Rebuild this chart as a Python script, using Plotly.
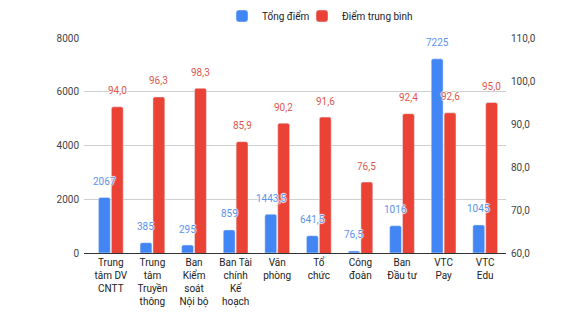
import plotly.graph_objects as go

# Departments, total score and average score
categories = [
    "Trung tâm DV CNTT", "Trung tâm Truyền thông", "Ban Kiểm soát Nội bộ",
    "Ban Tài chính Kế hoạch", "Văn phòng", "Tổ chức", "Công đoàn",
    "Ban Đầu tư", "VTC Pay", "VTC Edu",
]
tick_labels = [
    "Trung<br>tâm DV<br>CNTT", "Trung<br>tâm<br>Truyền<br>thông",
    "Ban<br>Kiểm<br>soát<br>Nội bộ", "Ban Tài<br>chính<br>Kế<br>hoạch",
    "Văn<br>phòng", "Tổ<br>chức", "Công<br>đoàn", "Ban<br>Đầu tư",
    "VTC<br>Pay", "VTC<br>Edu",
]
total_score = [2067, 385, 295, 859, 1443.5, 641.5, 76.5, 1016, 7225, 1045]
avg_score = [94.0, 96.3, 98.3, 85.9, 90.2, 91.6, 76.5, 92.4, 92.6, 95.0]

BLUE = "#4285F4"
RED = "#EA4335"
BLUE_LABEL = "#5b93ee"
RED_LABEL = "#e2574c"
FONT = "Roboto, Arial, sans-serif"

W, H = 574, 322
M_L, M_R, M_T, M_B = 84, 68, 38, 69
X_RANGE = [-0.645, 9.5]
BARGAP, GROUPGAP = 0.38, 0.08

plot_w = W - M_L - M_R
plot_h = H - M_T - M_B
px_per_cat = plot_w / (X_RANGE[1] - X_RANGE[0])
bar_offset = px_per_cat * (1 - BARGAP) / 4


def fmt(v, decimals=None):
    if decimals is None:
        s = f"{v:g}"
    else:
        s = f"{v:.{decimals}f}"
    return s.replace(".", ",")


fig = go.Figure()
fig.add_trace(go.Bar(
    x=categories, y=total_score, name="Tổng điểm", legend="legend",
    marker=dict(color=BLUE, cornerradius=2), offsetgroup="1", yaxis="y",
))
fig.add_trace(go.Bar(
    x=categories, y=avg_score, name="Điểm trung bình", legend="legend2",
    marker=dict(color=RED, cornerradius=2), offsetgroup="2", yaxis="y2",
))

halo = "1px 0 1px #fff, -1px 0 1px #fff, 0 1px 1px #fff, 0 -1px 1px #fff"
annotations = []
for cat, v in zip(categories, total_score):
    annotations.append(dict(
        x=cat, y=v, xref="x", yref="y", text=fmt(v), showarrow=False,
        xshift=-bar_offset, yshift=16, yanchor="middle",
        font=dict(family=FONT, size=10, color=BLUE_LABEL, shadow=halo),
    ))
for cat, v in zip(categories, avg_score):
    annotations.append(dict(
        x=cat, y=v, xref="x", yref="y2", text=fmt(v, 1), showarrow=False,
        xshift=bar_offset, yshift=16, yanchor="middle",
        font=dict(family=FONT, size=10, color=RED_LABEL, shadow=halo),
    ))

legend_y = 1 + (M_T - 16) / plot_h
legend_style = dict(
    orientation="h", xanchor="left", y=legend_y, yanchor="middle",
    bgcolor="rgba(0,0,0,0)",
    font=dict(family=FONT, size=10, color="#222"), itemwidth=30,
)

fig.update_layout(
    width=W, height=H,
    margin=dict(l=M_L, r=M_R, t=M_T, b=M_B, pad=0, autoexpand=False),
    paper_bgcolor="white", plot_bgcolor="white",
    barmode="group", bargap=BARGAP, bargroupgap=GROUPGAP,
    separators=",.",
    font=dict(family=FONT, size=10, color="#444"),
    showlegend=True,
    legend=dict(x=(222 - M_L) / plot_w, **legend_style),
    legend2=dict(x=(302 - M_L) / plot_w, **legend_style),
    xaxis=dict(
        range=X_RANGE, tickmode="array", tickvals=categories, ticktext=tick_labels,
        showline=True, linecolor="#333", linewidth=1, showgrid=False,
        tickfont=dict(family=FONT, size=10, color="#222"), ticks="",
    ),
    yaxis=dict(
        range=[0, 8000], dtick=2000, tickformat="d",
        showgrid=True, gridcolor="#cfcfcf", zeroline=False,
        tickfont=dict(family=FONT, size=10, color="#444"), ticklabelstandoff=4,
    ),
    yaxis2=dict(
        range=[60, 110], dtick=10, tickformat=".1f", overlaying="y", side="right",
        showgrid=False, zeroline=False,
        tickfont=dict(family=FONT, size=10, color="#444"), ticklabelstandoff=4,
    ),
    annotations=annotations,
)

fig.write_html("out.html")
